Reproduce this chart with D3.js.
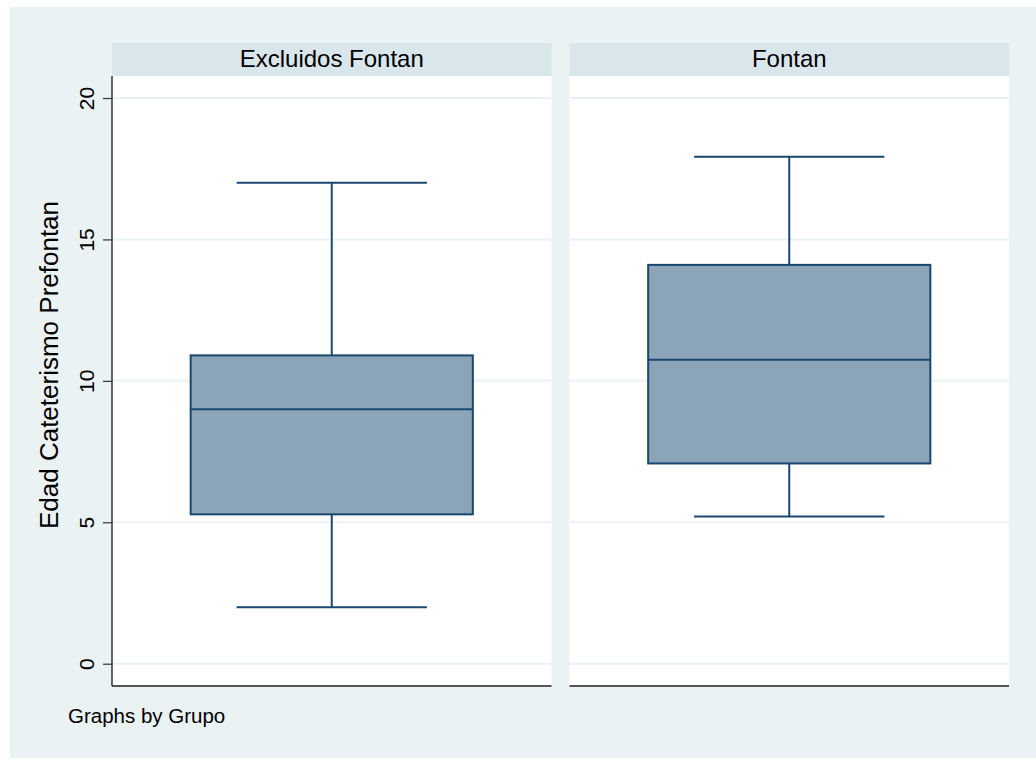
<!DOCTYPE html>
<html><head><meta charset="utf-8">
<script src="https://cdn.jsdelivr.net/npm/d3@7"></script>
<style>
html,body{margin:0;padding:0;background:#fff;}
svg{display:block;font-family:"Liberation Sans",Arial,sans-serif;}
</style></head>
<body>
<svg id="c" width="1036" height="765"></svg>
<script>
const groups = ["Excluidos Fontan", "Fontan"];
const lowerWhisker = [2.0, 5.2];
const q1 = [5.28, 7.08];
const median = [9.0, 10.75];
const q3 = [10.9, 14.1];
const upperWhisker = [17.0, 17.92];
const yTicks = [0, 5, 10, 15, 20];
const yTitle = "Edad Cateterismo Prefontan";
const note = "Graphs by Grupo";

const svg = d3.select("#c");
const W = 1036, H = 765;
const plotTop = 76, plotBottom = 686, stripTop = 43;
const left = 112, right = 1009;

svg.append("rect").attr("x", 10).attr("y", 7).attr("width", W - 10).attr("height", 751).attr("fill", "#eaf2f3");

const x = d3.scaleBand().domain(groups).range([left, right]).paddingInner(18 / 457.5).paddingOuter(0);
const y = d3.scaleLinear().domain([0, 20]).range([663.7, 98]);

const navy = "#1a476f";

groups.forEach((g, i) => {
  const x0 = x(g), bw = x.bandwidth();
  const panel = svg.append("g");
  panel.append("rect").attr("x", x0).attr("y", stripTop).attr("width", bw).attr("height", plotTop - stripTop).attr("fill", "#d9e6eb");
  panel.append("text").attr("x", x0 + bw / 2).attr("y", 67).attr("text-anchor", "middle")
    .attr("font-size", 24).attr("fill", "#000").text(g);
  panel.append("rect").attr("x", x0).attr("y", plotTop).attr("width", bw).attr("height", plotBottom - plotTop).attr("fill", "#fff");
  panel.selectAll("line.grid").data(yTicks).enter().append("line")
    .attr("x1", x0).attr("x2", x0 + bw).attr("y1", d => y(d)).attr("y2", d => y(d))
    .attr("stroke", "#eaf2f3").attr("stroke-width", 2);
  const cx = x0 + bw / 2;
  const boxW = bw * 0.642, capW = bw * 0.433;
  panel.append("line").attr("x1", cx).attr("x2", cx).attr("y1", y(upperWhisker[i])).attr("y2", y(q3[i]))
    .attr("stroke", navy).attr("stroke-width", 2);
  panel.append("line").attr("x1", cx).attr("x2", cx).attr("y1", y(q1[i])).attr("y2", y(lowerWhisker[i]))
    .attr("stroke", navy).attr("stroke-width", 2);
  panel.append("line").attr("x1", cx - capW / 2).attr("x2", cx + capW / 2).attr("y1", y(upperWhisker[i])).attr("y2", y(upperWhisker[i]))
    .attr("stroke", navy).attr("stroke-width", 2);
  panel.append("line").attr("x1", cx - capW / 2).attr("x2", cx + capW / 2).attr("y1", y(lowerWhisker[i])).attr("y2", y(lowerWhisker[i]))
    .attr("stroke", navy).attr("stroke-width", 2);
  panel.append("rect").attr("x", cx - boxW / 2).attr("y", y(q3[i])).attr("width", boxW).attr("height", y(q1[i]) - y(q3[i]))
    .attr("fill", "#8ca4b8").attr("stroke", navy).attr("stroke-width", 2);
  panel.append("line").attr("x1", cx - boxW / 2).attr("x2", cx + boxW / 2).attr("y1", y(median[i])).attr("y2", y(median[i]))
    .attr("stroke", navy).attr("stroke-width", 2);
  panel.append("line").attr("x1", x0).attr("x2", x0 + bw).attr("y1", plotBottom).attr("y2", plotBottom)
    .attr("stroke", "#555").attr("stroke-width", 2);
});

const yAxis = d3.axisLeft(y).tickValues(yTicks).tickSize(9).tickPadding(8).tickFormat(d3.format("d"));
const ag = svg.append("g").attr("transform", `translate(${left},0)`).call(yAxis);
ag.select(".domain").remove();
ag.selectAll(".tick line").attr("stroke", "#333").attr("stroke-width", 1.2);
ag.selectAll(".tick text").attr("font-size", 21).attr("fill", "#000")
  .attr("text-anchor", "middle").attr("dy", "0")
  .attr("transform", "translate(-18,0) rotate(-90)").attr("x", 0).attr("y", 0);
svg.append("line").attr("x1", left).attr("x2", left).attr("y1", plotTop).attr("y2", plotBottom)
  .attr("stroke", "#333").attr("stroke-width", 1.5);

svg.append("text").attr("transform", `translate(58,${(200 + 530) / 2}) rotate(-90)`).attr("text-anchor", "middle")
  .attr("font-size", 26).attr("fill", "#000").text(yTitle);

svg.append("text").attr("x", 68).attr("y", 723).attr("font-size", 20.5).attr("fill", "#000").text(note);
</script>
</body></html>
